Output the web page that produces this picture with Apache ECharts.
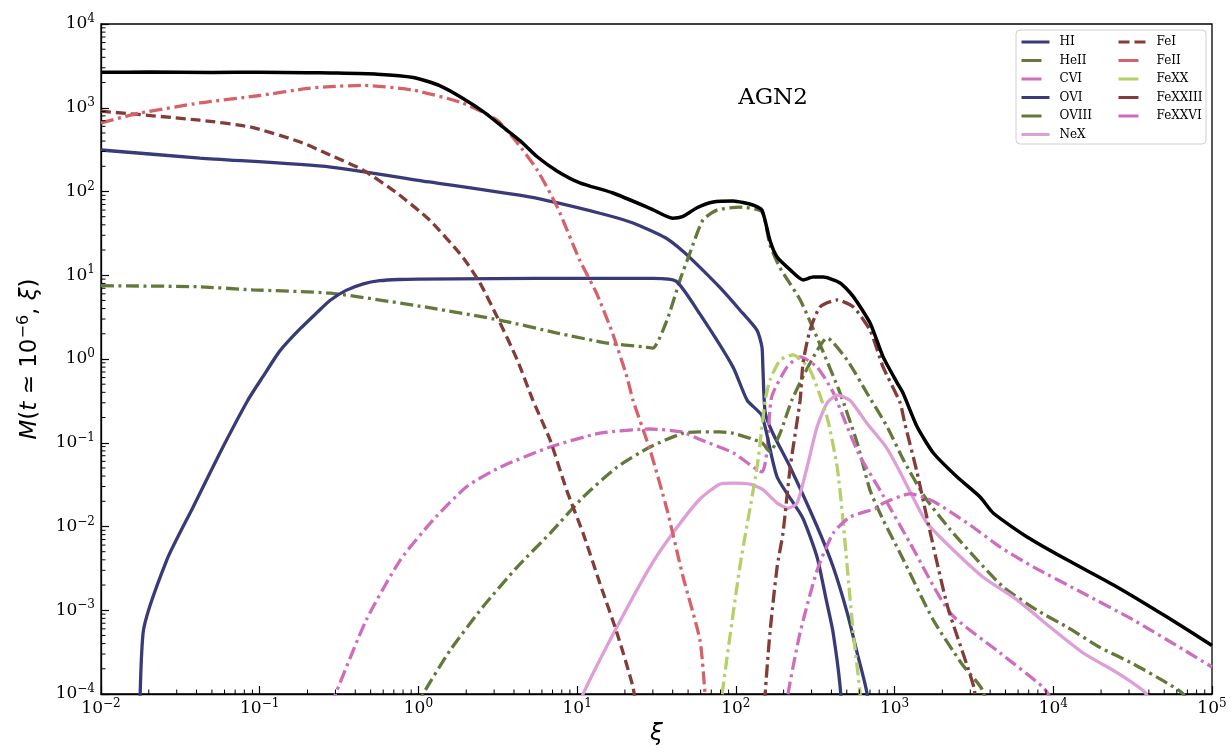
<!DOCTYPE html>
<html>
<head>
<meta charset="utf-8">
<script src="https://cdn.jsdelivr.net/npm/echarts@6/dist/echarts.min.js"></script>
<style>
html, body { margin: 0; padding: 0; background: #fff; }
#chart { width: 1232px; height: 753px; }
</style>
</head>
<body>
<div id="chart"></div>
<script>
// Ion mass fractions M(t ~ 1e-6, xi) against ionization parameter xi, AGN2 model.

// total
const xiTotal = [0.01, 0.02, 0.05, 0.1, 0.2, 0.28, 0.55, 0.93, 1.35, 1.9, 2.6, 3.4, 4.4, 5.6, 7.5, 10.4, 16.8, 28.8, 40, 46, 57, 72, 96, 128, 146, 164, 182, 220, 265, 307, 355, 454, 548, 701, 847, 1038, 1132, 1387, 1750, 2480, 3460, 4180, 6840, 12200, 25200, 52100, 100000];
const mTotal = [2650, 2670, 2640, 2650, 2620, 2600, 2520, 2300, 1850, 1300, 880, 590, 400, 260, 175, 127, 96, 63, 48, 50, 64, 75, 77, 69, 60, 26, 16.5, 11.6, 8.8, 9.5, 9.5, 8.1, 5.6, 2.69, 1.06, 0.52, 0.39, 0.155, 0.076, 0.039, 0.0225, 0.0145, 0.0075, 0.004, 0.0019, 0.00083, 0.00038];

// H I
const xiHI = [0.01, 0.042, 0.28, 1.17, 5.0, 13.9, 22.5, 36, 47, 59, 79, 106, 136, 146, 148, 153, 171, 220, 325, 410, 503, 581, 671, 700];
const mHI = [313, 251, 196, 130, 86, 55, 42, 28, 19, 12.6, 7.2, 3.85, 2.2, 1.39, 0.8, 0.23, 0.13, 0.051, 0.01, 0.0033, 0.00093, 0.00031, 0.0001, 0.00002];

// He II
const xiHeII = [0.01, 0.04, 0.09, 0.28, 1.17, 3.3, 7.5, 15.5, 26, 30, 36.8, 44.5, 51.4, 62, 76, 106, 146, 164, 190, 254, 340, 454, 581, 701, 847, 1084, 1750, 2650, 3590, 4200];
const mHeII = [7.5, 7.3, 6.7, 6.1, 4.1, 2.9, 2.04, 1.55, 1.4, 1.35, 2.9, 8.8, 18.5, 45.7, 60, 65, 57, 23, 12.2, 5.1, 1.47, 0.39, 0.1, 0.027, 0.012, 0.0048, 0.00077, 0.00023, 0.00011, 0.00003];

// C VI
const xiCVI = [0.28, 0.3, 0.47, 0.77, 1.24, 2.02, 3.27, 6.75, 13.9, 28.8, 46, 59, 96, 146, 157, 168, 210, 254, 325, 410, 503, 607, 811, 1254, 2240, 4620, 8630, 10000];
const mCVI = [0.000073, 0.0001, 0.00077, 0.004, 0.012, 0.03, 0.051, 0.089, 0.13, 0.146, 0.134, 0.11, 0.076, 0.045, 0.08, 0.35, 0.8, 1.06, 0.8, 0.4, 0.155, 0.068, 0.027, 0.0063, 0.00093, 0.00031, 0.00012, 0.00008];

// O VI
const xiOVI = [0.0172, 0.0184, 0.026, 0.038, 0.056, 0.084, 0.105, 0.134, 0.18, 0.23, 0.277, 0.35, 0.45, 0.57, 0.75, 1.0, 3, 10, 30, 42, 59, 96, 118, 146, 182, 262, 325, 372, 410, 458, 480];
const mOVI = [0.000001, 0.00053, 0.004, 0.017, 0.075, 0.32, 0.62, 1.25, 2.3, 3.6, 5.0, 6.6, 7.9, 8.6, 8.9, 9.0, 9.1, 9.2, 9.2, 8.5, 3.5, 0.8, 0.32, 0.21, 0.039, 0.013, 0.0043, 0.0013, 0.00054, 0.0001, 0.00001];

// O VIII
const xiOVIII = [0.95, 1.07, 1.58, 2.55, 4.2, 6.75, 10.9, 17.8, 28.8, 46.5, 59, 79, 96, 146, 164, 190, 225, 293, 376, 503, 671, 898, 1150, 1550, 2240, 3310, 4830, 7910, 12200, 19700, 31800, 52100, 65800, 75000];
const mOVIII = [0.00006, 0.0001, 0.00033, 0.0011, 0.0033, 0.0083, 0.0224, 0.051, 0.089, 0.13, 0.135, 0.135, 0.13, 0.1, 0.078, 0.13, 0.32, 0.89, 1.78, 0.97, 0.39, 0.155, 0.06, 0.0225, 0.0092, 0.004, 0.0019, 0.001, 0.00063, 0.00036, 0.00023, 0.000135, 0.0001, 0.00006];

// Ne X
const xiNeX = [10, 10.9, 17.8, 28.8, 40, 59, 79, 96, 123, 148, 182, 213, 243, 281, 325, 376, 435, 525, 671, 880, 1050, 1310, 1600, 2240, 3600, 5910, 9550, 15400, 25200, 36800, 40000];
const mNeX = [0.00006, 0.0001, 0.00063, 0.0033, 0.0083, 0.021, 0.032, 0.033, 0.032, 0.0275, 0.019, 0.0165, 0.019, 0.051, 0.155, 0.3, 0.37, 0.32, 0.17, 0.09, 0.05, 0.022, 0.011, 0.0057, 0.0025, 0.00133, 0.00063, 0.00031, 0.00018, 0.00011, 0.00009];

// Fe I
const xiFeI = [0.01, 0.042, 0.087, 0.18, 0.277, 0.446, 0.73, 1.17, 1.9, 2.44, 3.13, 4.2, 5.27, 6.75, 8.6, 10.9, 13.9, 17.8, 22.5, 24];
const mFeI = [910, 710, 590, 390, 273, 181, 96, 46, 16.5, 8.1, 3.2, 0.97, 0.32, 0.108, 0.027, 0.0083, 0.0021, 0.00054, 0.00012, 0.00005];

// Fe II
const xiFeII = [0.01, 0.0176, 0.042, 0.1, 0.2, 0.277, 0.45, 0.93, 1.9, 3.13, 4.2, 5.6, 7.5, 10.4, 13.2, 16.7, 20.6, 22.5, 28.8, 36.8, 46.5, 59.4, 64, 67];
const mFeII = [660, 865, 1140, 1400, 1700, 1790, 1850, 1620, 1140, 710, 380, 181, 65, 15, 6.2, 2.04, 0.61, 0.32, 0.082, 0.016, 0.0025, 0.00044, 0.0001, 0.00004];

// Fe XX
const xiFeXX = [80, 82, 106, 136, 153, 164, 190, 229, 293, 376, 435, 471, 503, 549, 607, 620];
const mFeXX = [0.00005, 0.0001, 0.0033, 0.051, 0.32, 0.56, 0.97, 1.12, 0.74, 0.2, 0.051, 0.013, 0.0033, 0.00054, 0.0001, 0.00004];

// Fe XXIII
const xiFeXXIII = [150, 153, 164, 182, 198, 220, 254, 265, 293, 340, 435, 548, 701, 847, 1084, 1160, 1387, 1610, 2160, 3160, 3300];
const mFeXXIII = [0.00004, 0.0001, 0.00054, 0.0033, 0.0083, 0.051, 0.32, 0.9, 2.2, 4.2, 5.07, 4.2, 2.2, 0.8, 0.3, 0.17, 0.044, 0.012, 0.0011, 0.00012, 0.00005];

// Fe XXVI
const xiFeXXVI = [205, 213, 254, 325, 410, 525, 776, 847, 1254, 1750, 2870, 4620, 7470, 15400, 31800, 65800, 100000];
const mFeXXVI = [0.00005, 0.0001, 0.00054, 0.003, 0.0083, 0.013, 0.0166, 0.019, 0.0245, 0.02, 0.011, 0.0057, 0.0033, 0.0016, 0.00077, 0.00034, 0.00021];

// legend columns
const legendLeft = ['HI', 'HeII', 'CVI', 'OVI', 'OVIII', 'NeX'];
const legendRight = ['FeI', 'FeII', 'FeXX', 'FeXXIII', 'FeXXVI'];

// axis decades
const xDecades = [-2, -1, 0, 1, 2, 3, 4];
const yDecades = [-4, -3, -2, -1, 0, 1, 2, 3];

const DASHDOT = [13, 4.5, 3, 4.5];
const DASHED = [10, 5];

const ions = [
  { name: 'HI', xi: xiHI, m: mHI, color: '#393b79', type: 'solid' },
  { name: 'HeII', xi: xiHeII, m: mHeII, color: '#637939', type: DASHDOT },
  { name: 'CVI', xi: xiCVI, m: mCVI, color: '#ce6dbd', type: DASHDOT },
  { name: 'OVI', xi: xiOVI, m: mOVI, color: '#393b79', type: 'solid' },
  { name: 'OVIII', xi: xiOVIII, m: mOVIII, color: '#637939', type: DASHDOT },
  { name: 'NeX', xi: xiNeX, m: mNeX, color: '#de9ed6', type: 'solid' },
  { name: 'FeI', xi: xiFeI, m: mFeI, color: '#843c39', type: DASHED },
  { name: 'FeII', xi: xiFeII, m: mFeII, color: '#d6616b', type: DASHDOT },
  { name: 'FeXX', xi: xiFeXX, m: mFeXX, color: '#b5cf6b', type: DASHDOT },
  { name: 'FeXXIII', xi: xiFeXXIII, m: mFeXXIII, color: '#843c39', type: DASHDOT },
  { name: 'FeXXVI', xi: xiFeXXVI, m: mFeXXVI, color: '#ce6dbd', type: DASHDOT }
];
const styleOf = {};
ions.forEach(s => { styleOf[s.name] = s; });

const pairs = (xs, ys) => xs.map((x, i) => [x, ys[i]]);

// minor tick positions at 2..9 within each decade
const minorX = [];
xDecades.forEach(e => { for (let k = 2; k <= 9; k++) minorX.push(k * Math.pow(10, e)); });
const minorY = [];
yDecades.forEach(e => { for (let k = 2; k <= 9; k++) minorY.push(k * Math.pow(10, e)); });

const SERIF = 'DejaVu Serif';
const powLabel = v => {
  const e = Math.round(Math.log10(v));
  return '{b|10}{s|' + (e < 0 ? '\u2212' + (-e) : e) + '}';
};
const labelRich = {
  b: { fontFamily: SERIF, fontSize: 17, lineHeight: 22, color: '#000' },
  s: { fontFamily: SERIF, fontSize: 12, lineHeight: 8, verticalAlign: 'top', color: '#000' }
};

const series = ions.map(s => ({
  name: s.name,
  type: 'line',
  data: pairs(s.xi, s.m),
  symbol: 'none',
  smooth: 0.2,
  clip: true,
  silent: true,
  z: 3,
  lineStyle: { color: s.color, width: 3.3, type: s.type, cap: 'butt' },
  itemStyle: { color: s.color }
}));

series.push({
  name: 'Total',
  type: 'line',
  data: pairs(xiTotal, mTotal),
  symbol: 'none',
  smooth: 0.2,
  clip: true,
  silent: true,
  z: 4,
  lineStyle: { color: '#000', width: 3.5 }
});

series.push({
  type: 'custom',
  silent: true,
  clip: false,
  z: 6,
  data: minorX.map(v => [v, 1e-4]),
  renderItem: (params, api) => {
    const p = api.coord([api.value(0), api.value(1)]);
    return { type: 'line', shape: { x1: p[0], y1: p[1], x2: p[0], y2: p[1] - 4.5 }, style: { stroke: '#000', lineWidth: 1 } };
  }
});
series.push({
  type: 'custom',
  silent: true,
  clip: false,
  z: 6,
  data: minorY.map(v => [0.01, v]),
  renderItem: (params, api) => {
    const p = api.coord([api.value(0), api.value(1)]);
    return { type: 'line', shape: { x1: p[0], y1: p[1], x2: p[0] + 4.5, y2: p[1] }, style: { stroke: '#000', lineWidth: 1 } };
  }
});

// legend handles: solid and dashed lines keep their pattern, dash-dot ones show a single dash
const legendItems = names => names.map(n => {
  const t = styleOf[n].type;
  return { name: n, lineStyle: { type: t === DASHDOT ? [20, 40] : t === DASHED ? [11, 5] : 'solid' } };
});

const legendBase = {
  orient: 'vertical',
  top: 36,
  padding: 0,
  itemWidth: 28,
  itemHeight: 12,
  itemGap: 6.5,
  selectedMode: false,
  z: 20,
  itemStyle: { opacity: 0, borderWidth: 0 },
  lineStyle: { width: 3 },
  textStyle: { fontFamily: SERIF, fontSize: 12, color: '#000', padding: [0, 0, 0, 5] }
};

const chart = echarts.init(document.getElementById('chart'), null, { renderer: 'canvas' });
chart.setOption({
  animation: false,
  backgroundColor: '#fff',
  grid: {
    left: 101, right: 20, top: 24, bottom: 59,
    show: true, borderColor: '#000', borderWidth: 1.3,
    containLabel: false, outerBoundsMode: 'none'
  },
  xAxis: {
    type: 'log', logBase: 10, min: 0.01, max: 1e5, splitNumber: 7,
    axisLine: { show: true, lineStyle: { color: '#000', width: 1.3 } },
    axisTick: { show: true, inside: true, length: 8, lineStyle: { color: '#000', width: 1.2 } },
    minorTick: { show: false },
    splitLine: { show: false },
    axisLabel: { margin: 4, formatter: powLabel, rich: labelRich, showMinLabel: true, showMaxLabel: true, hideOverlap: false },
    name: '\u03be',
    nameLocation: 'middle',
    nameGap: 26,
    nameTextStyle: { fontFamily: 'DejaVu Sans', fontStyle: 'italic', fontSize: 23, color: '#000' }
  },
  yAxis: {
    type: 'log', logBase: 10, min: 1e-4, max: 1e4, splitNumber: 8,
    axisLine: { show: true, lineStyle: { color: '#000', width: 1.3 } },
    axisTick: { show: true, inside: true, length: 8, lineStyle: { color: '#000', width: 1.2 } },
    minorTick: { show: false },
    splitLine: { show: false },
    axisLabel: { margin: 6, formatter: powLabel, rich: labelRich, showMinLabel: true, showMaxLabel: true, hideOverlap: false },
    name: '{i|M}{n|(}{i|t}{n| \u2243 10}{s|\u22126}{n|, }{i|\u03be}{n|)}',
    nameLocation: 'middle',
    nameRotate: 90,
    nameGap: 57,
    nameTextStyle: {
      fontFamily: 'DejaVu Sans', fontSize: 23, color: '#000',
      rich: {
        i: { fontFamily: 'DejaVu Sans', fontStyle: 'italic', fontSize: 23, lineHeight: 28, color: '#000' },
        n: { fontFamily: 'DejaVu Sans', fontSize: 23, lineHeight: 28, color: '#000' },
        s: { fontFamily: 'DejaVu Sans', fontSize: 16, lineHeight: 10, verticalAlign: 'top', color: '#000' }
      }
    }
  },
  legend: [
    Object.assign({}, legendBase, { left: 1020, data: legendItems(legendLeft) }),
    Object.assign({}, legendBase, { left: 1117, data: legendItems(legendRight) })
  ],
  graphic: [
    {
      type: 'rect', z: 10,
      shape: { x: 1016, y: 30, width: 190, height: 114, r: 4 },
      style: { fill: 'rgba(255,255,255,0.85)', stroke: '#d0d0d0', lineWidth: 1 }
    },
    {
      type: 'text', z: 10, x: 773, y: 98,
      style: { text: 'AGN2', fontFamily: SERIF, fontSize: 23, fill: '#000', align: 'center', verticalAlign: 'middle' }
    }
  ],
  series: series
});
</script>
</body>
</html>
